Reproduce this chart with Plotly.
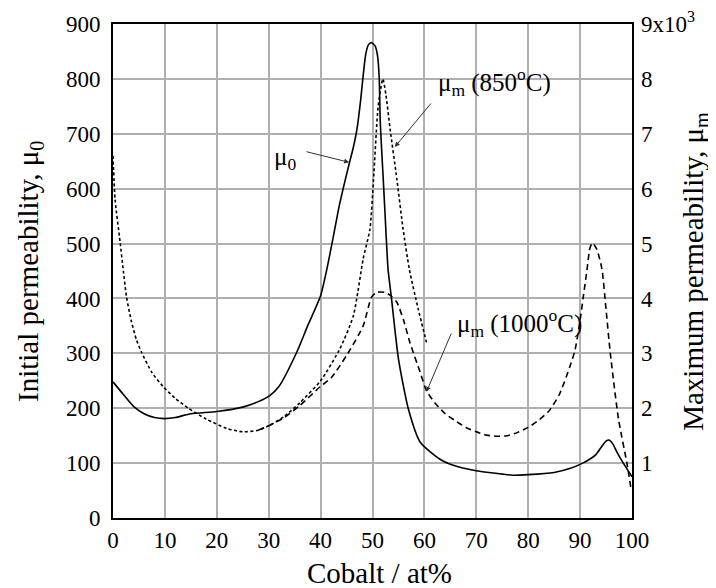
import plotly.graph_objects as go

# ---- data ----
cobalt_mu0 = [0, 2, 4, 6, 8, 10, 12, 15, 20, 25, 28, 30.2, 32, 35.4, 37.5, 40, 41.2, 42.5, 43.6, 44.6,
              45.5, 46.3, 47, 47.7, 48.2, 48.7, 49.2, 49.8, 50.5, 51.0, 51.3, 51.5, 52.0, 52.4, 53, 53.6,
              55, 56.9, 59.2, 63, 65, 70, 75, 77, 80, 85, 88, 90.5, 92, 93, 94, 95, 95.6, 96.3, 97, 98, 99, 100]
mu0 = [248, 225, 203, 190, 183, 181, 183, 190, 194, 202, 212, 223, 240, 302, 350, 405, 453, 515, 569, 610,
       645, 675, 708, 760, 806, 845, 862, 866, 860, 840, 800, 720, 630, 557, 453, 405,
       290, 199, 138, 107, 98, 86, 80, 78, 79, 83, 90, 100, 108, 115, 128, 140, 142, 135, 122, 105, 90, 75]

# maximum permeability, in units of 10^3
cobalt_850 = [0, 0.4, 1.35, 2.0, 2.6, 3.5, 4.5, 5.5, 7.5, 9.6, 12, 14.5, 18, 22, 25, 28, 30, 33, 36, 40,
              43.7, 46.3, 48.2, 49.5, 50.2, 51.1, 52, 52.6, 53.4, 54.7, 55.9, 57.1, 58.8, 60.4]
mum_850 = [6.6, 5.8, 5.04, 4.5, 4.03, 3.6, 3.25, 3.02, 2.65, 2.4, 2.18, 2.0, 1.8, 1.63, 1.57, 1.6, 1.68, 1.85, 2.1, 2.5,
           3.08, 3.68, 4.72, 5.26, 6.17, 7.51, 8.0, 7.7, 7.08, 6.17, 5.26, 4.53, 3.81, 3.2]

cobalt_1000 = [28, 30, 33, 36, 40, 42, 45, 48.2, 49.8, 50.8, 52.4, 53.5, 54.7, 56, 57.2, 59.2, 60.4, 62, 64, 66,
               68, 70, 72, 74, 76, 78, 80, 82, 84, 86, 88, 89, 90, 90.6, 91.3, 91.9, 92.4, 93.2, 94.2, 95,
               95.8, 97.4, 99, 99.8]
mum_1000 = [1.6, 1.68, 1.83, 2.05, 2.4, 2.55, 2.96, 3.5, 4.02, 4.11, 4.11, 4.05, 3.93, 3.6, 3.2, 2.65, 2.32, 2.1, 1.9, 1.77,
            1.65, 1.57, 1.51, 1.49, 1.5, 1.56, 1.65, 1.78, 1.95, 2.25, 2.75, 3.05, 3.6, 4.02, 4.5, 4.92, 5.01, 4.9, 4.54, 3.8,
            3.02, 1.8, 1.01, 0.54]

x_tickvals = [0, 10, 20, 30, 40, 50, 60, 70, 80, 90, 100]
left_tickvals = [0, 100, 200, 300, 400, 500, 600, 700, 800, 900]
right_tickvals = [1, 2, 3, 4, 5, 6, 7, 8, 9]
right_ticktext = ["1", "2", "3", "4", "5", "6", "7", "8", "9x10<sup>3</sup>"]
major_x = [30, 60, 90]
major_y = [100, 400, 700]

FONT = "Liberation Serif, Times New Roman, serif"
TICK = 23
TITLE = 29
ANN = 25

fig = go.Figure()
fig.add_trace(go.Scatter(x=cobalt_mu0, y=mu0, mode="lines", yaxis="y",
                         line=dict(color="black", width=1.6, shape="spline", smoothing=0.6)))
fig.add_trace(go.Scatter(x=cobalt_850, y=mum_850, mode="lines", yaxis="y2",
                         line=dict(color="black", width=1.6, dash="3px,2.5px", shape="spline", smoothing=0.6)))
fig.add_trace(go.Scatter(x=cobalt_1000, y=mum_1000, mode="lines", yaxis="y2",
                         line=dict(color="black", width=1.6, dash="6px,4px", shape="spline", smoothing=0.6)))

shapes = []
for v in major_x:
    shapes.append(dict(type="line", xref="x", yref="paper", x0=v, x1=v, y0=0, y1=1,
                       line=dict(color="black", width=1.2), layer="below"))
for v in major_y:
    shapes.append(dict(type="line", xref="paper", yref="y", x0=0, x1=1, y0=v, y1=v,
                       line=dict(color="black", width=1.2), layer="below"))

annotations = [
    # axis titles
    dict(text="Cobalt / at%", x=0.514, y=-0.111, xref="paper", yref="paper", showarrow=False,
         xanchor="center", yanchor="middle", font=dict(size=TITLE, family=FONT, color="black")),
    dict(text="Initial permeability, μ<sub>0</sub>", x=-0.160, y=0.5, xref="paper", yref="paper",
         showarrow=False, textangle=-90, xanchor="center", yanchor="middle",
         font=dict(size=TITLE, family=FONT, color="black")),
    dict(text="Maximum permeability, μ<sub>m</sub>", x=1.121, y=0.5, xref="paper", yref="paper",
         showarrow=False, textangle=-90, xanchor="center", yanchor="middle",
         font=dict(size=TITLE, family=FONT, color="black")),
    # curve labels
    dict(text="μ<sub>0</sub>", x=33.1, y=655, xref="x", yref="y", showarrow=False,
         font=dict(size=ANN, family=FONT, color="black")),
    dict(text="", x=45.5, y=648, ax=37.0, ay=668, xref="x", yref="y", axref="x", ayref="y",
         showarrow=True, arrowhead=2, arrowsize=1, arrowwidth=1, arrowcolor="#333"),
    dict(text="μ<sub>m</sub> (850<sup>o</sup>C)", x=62.2, y=7.95, xref="x", yref="y2", xanchor="left",
         showarrow=False, font=dict(size=ANN, family=FONT, color="black")),
    dict(text="", x=54.3, y=6.76, ax=61.5, ay=7.58, xref="x", yref="y2", axref="x", ayref="y2",
         showarrow=True, arrowhead=2, arrowsize=1, arrowwidth=1, arrowcolor="#333"),
    dict(text="μ<sub>m</sub> (1000<sup>o</sup>C)", x=65.9, y=3.55, xref="x", yref="y2", xanchor="left",
         showarrow=False, font=dict(size=ANN, family=FONT, color="black")),
    dict(text="", x=60.4, y=2.30, ax=65.3, ay=3.39, xref="x", yref="y2", axref="x", ayref="y2",
         showarrow=True, arrowhead=2, arrowsize=1, arrowwidth=1, arrowcolor="#333"),
]

fig.update_layout(
    width=716, height=588,
    margin=dict(l=105, r=92, t=16, b=78, autoexpand=False),
    paper_bgcolor="white", plot_bgcolor="white",
    showlegend=False,
    font=dict(family=FONT, size=TICK, color="black"),
    xaxis=dict(range=[0, 100], tickvals=x_tickvals, showgrid=True, gridcolor="#b0b0b0", gridwidth=1.5,
               showline=True, linecolor="black", linewidth=2, mirror=True, ticks="", zeroline=False,
               automargin=False, ticklabelstandoff=0, tickfont=dict(size=TICK)),
    yaxis=dict(range=[0, 900], tickvals=left_tickvals, showgrid=True, gridcolor="#b0b0b0", gridwidth=1.5,
               showline=True, linecolor="black", linewidth=2, mirror=True, ticks="", zeroline=False,
               automargin=False, ticklabelstandoff=6, tickfont=dict(size=TICK)),
    yaxis2=dict(range=[0, 9], tickvals=right_tickvals, ticktext=right_ticktext, overlaying="y", side="right",
                showgrid=False, zeroline=False, showline=False, ticks="", automargin=False,
                ticklabelstandoff=8, tickfont=dict(size=TICK)),
    shapes=shapes,
    annotations=annotations,
)

fig.write_html("out.html")
